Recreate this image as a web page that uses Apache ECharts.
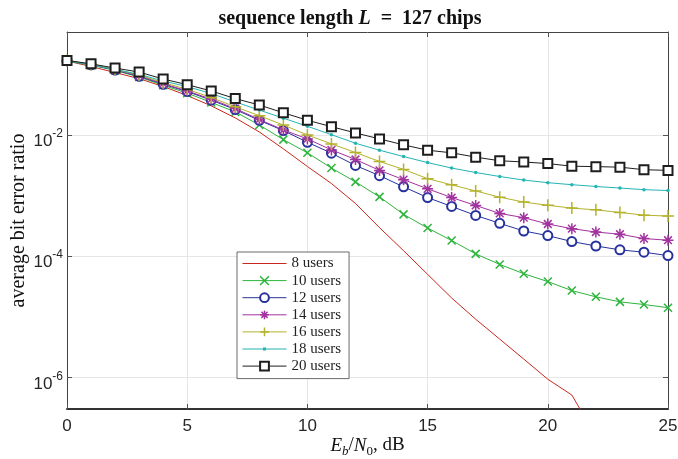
<!DOCTYPE html>
<html><head><meta charset="utf-8">
<script src="https://cdn.jsdelivr.net/npm/echarts@6/dist/echarts.min.js"></script>
<style>html,body{margin:0;padding:0;background:#fff}#c{width:678px;height:459px}</style>
</head><body><div id="c"></div>
<script>
// ---- data ----
const snr = [0,1,2,3,4,5,6,7,8,9,10,11,12,13,14,15,16,17,18,19,20,21,22,23,24,25];
const users8  = [0.166,0.135,0.107,0.085,0.063,0.0447,0.0302,0.0191,0.0112,0.00589,0.00302,0.00158,0.00074,0.000295,0.000123,5.0e-5,2.04e-5,9.1e-6,4.27e-6,2.0e-6,9.3e-7,5.1e-7,1.07e-7];
const users10 = [0.165,0.142,0.116,0.0904,0.066,0.0489,0.0344,0.024,0.0146,0.00838,0.00507,0.00284,0.00168,0.00095,0.000489,0.000291,0.000181,0.000109,7.3e-5,5.13e-5,3.8e-5,2.7e-5,2.13e-5,1.76e-5,1.59e-5,1.41e-5];
const users12 = [0.168,0.144,0.118,0.0927,0.0686,0.052,0.0375,0.0263,0.0174,0.0118,0.00758,0.0050,0.00314,0.00213,0.00139,0.000927,0.00066,0.00047,0.000348,0.00026,0.000218,0.000174,0.000147,0.000127,0.000116,0.000102];
const users14 = [0.168,0.1445,0.119,0.095,0.0703,0.0533,0.0389,0.0272,0.018,0.0121,0.0086,0.00567,0.00394,0.0026,0.00183,0.00129,0.000927,0.000686,0.000507,0.000431,0.000339,0.000284,0.00025,0.00023,0.000195,0.000183];
const users16 = [0.17,0.146,0.121,0.0975,0.073,0.0567,0.0414,0.0291,0.0208,0.0146,0.0100,0.00712,0.00513,0.00365,0.0027,0.0019,0.0015,0.00119,0.00094,0.00078,0.00069,0.00062,0.00058,0.000526,0.000475,0.000458];
const users18 = [0.168,0.144,0.121,0.1,0.0778,0.0628,0.0482,0.0351,0.0257,0.0189,0.0139,0.0101,0.0073,0.0056,0.0044,0.0035,0.00284,0.0024,0.00206,0.0018,0.00163,0.00151,0.00141,0.00133,0.00125,0.00121];
const users20 = [0.17,0.149,0.127,0.109,0.0838,0.0676,0.0532,0.0398,0.0312,0.0232,0.0175,0.0137,0.0108,0.0086,0.00686,0.0056,0.00507,0.0043,0.00375,0.00358,0.00337,0.00305,0.0030,0.00294,0.00267,0.0026];
const seriesNames = ['8 users','10 users','12 users','14 users','16 users','18 users','20 users'];
const xTicks = [0,5,10,15,20,25];
const yTicks = [1e-6,1e-4,1e-2];

// ---- styles ----
const xPath = 'path://M0,0L10,10M10,0L0,10';
const starPath = 'path://M5,0L5,10M0,5L10,5M1.5,1.5L8.5,8.5M8.5,1.5L1.5,8.5';
const plusPath = 'path://M5,0L5,10M0,5L10,5';
const styles = [
  {color:'#c8281e', symbol:'none', size:0, bw:0},
  {color:'#2db43c', symbol:xPath, size:8, bw:1.5},
  {color:'#26329c', symbol:'emptyCircle', size:9, bw:1.5},
  {color:'#a2329f', symbol:starPath, size:11, bw:1.5},
  {color:'#b4b22a', symbol:plusPath, size:12, bw:1.5},
  {color:'#25b4b4', symbol:'circle', size:3.5, bw:0},
  {color:'#1e1e1e', symbol:'emptyRect', size:9, bw:1.5}
];
const allValues = [users8,users10,users12,users14,users16,users18,users20];

const series = allValues.map((vals,k)=>({
  name: seriesNames[k],
  type:'line',
  data: vals.map((v,i)=>[snr[i], v]),
  symbol: styles[k].symbol,
  symbolSize: styles[k].size,
  showSymbol: styles[k].symbol !== 'none',
  showAllSymbol: true,
  lineStyle:{width:1, color:styles[k].color},
  itemStyle:{color:styles[k].color, borderColor:styles[k].color, borderWidth:styles[k].bw},
  emphasis:{disabled:true},
  animation:false,
  clip:true,
  z: 2 + k
}));

// legend entries: plain line for '8 users', line with small dot for '18 users'
const legendData = seriesNames.map((n,k)=>{
  if (k === 0) return {name:n, icon:'path://M0,0H44V1H0Z', itemStyle:{borderWidth:0}};
  if (k === 5) return {name:n, icon:'path://M0,1H44V2H0Z M20.5,0H23.5V3H20.5Z', itemStyle:{borderWidth:0}};
  return {name:n};
});

const serif = 'Liberation Serif';
const sans = 'Liberation Sans';
const tickColor = '#262626';

const chart = echarts.init(document.getElementById('c'), null, {renderer:'canvas'});
chart.setOption({
  backgroundColor:'#fff',
  animation:false,
  title:{
    text:'{n|sequence length }{i|L}{n|  =  127 chips}',
    left: 345, top: 4, textAlign:'center',
    textStyle:{ rich:{
      n:{fontFamily:serif, fontWeight:'bold', fontSize:20, color:'#111'},
      i:{fontFamily:serif, fontWeight:'bold', fontStyle:'italic', fontSize:20, color:'#111'}
    }}
  },
  grid:{left:67, right:10, top:32, bottom:50, containLabel:false, outerBoundsMode:'none'},
  legend:{
    orient:'vertical', left:237, top:252,
    itemWidth:44, itemHeight:11, itemGap:2.1,
    padding:[4,8,5,5], borderColor:'#444', borderWidth:0.8, backgroundColor:'#fff',
    lineStyle:{width:1},
    itemStyle:{borderWidth:1.5},
    textStyle:{fontFamily:serif, fontSize:15, color:'#222'},
    data: legendData
  },
  xAxis:[{
    type:'value', min:0, max:25, interval:5, position:'bottom',
    axisLine:{show:true, onZero:false, lineStyle:{color:'#333', width:2}},
    axisTick:{show:true, inside:true, length:5, lineStyle:{color:'#555', width:1}},
    axisLabel:{fontFamily:sans, fontSize:17, color:tickColor, margin:9,
      customValues: xTicks},
    splitLine:{show:true, lineStyle:{color:'#e6e6e6', width:1}},
    name:'{i|E}{sb|b}{n|/}{i|N}{s0|0}{n|, dB}',
    nameLocation:'middle', nameGap:27, nameMoveOverlap:false,
    nameTextStyle:{ rich:{
      i:{fontFamily:serif, fontStyle:'italic', fontSize:19, color:'#111', lineHeight:22, verticalAlign:'top'},
      n:{fontFamily:serif, fontSize:19, color:'#111', lineHeight:22, verticalAlign:'top'},
      sb:{fontFamily:serif, fontStyle:'italic', fontSize:13, color:'#111', lineHeight:12, verticalAlign:'bottom'},
      s0:{fontFamily:serif, fontSize:13, color:'#111', lineHeight:12, verticalAlign:'bottom'}
    }}
  },{
    type:'value', min:0, max:25, interval:5, position:'top',
    axisLine:{show:true, onZero:false, lineStyle:{color:'#444', width:1}},
    axisTick:{show:true, inside:true, length:5, lineStyle:{color:'#555', width:1}},
    axisLabel:{show:false},
    splitLine:{show:false}
  }],
  yAxis:[{
    type:'log', logBase:10, min:3e-7, max:0.5, position:'left',
    axisLine:{show:true, onZero:false, lineStyle:{color:'#444', width:1}},
    axisTick:{show:true, inside:true, length:5, lineStyle:{color:'#555', width:1}, customValues: yTicks},
    minorTick:{show:false},
    axisLabel:{margin:4, customValues: yTicks, padding:[8,0,0,0],
      formatter:function(v){
        const e = Math.round(Math.log10(v));
        return '{b|10}{s|' + e + '}';
      },
      rich:{
        b:{fontFamily:sans, fontSize:17, color:tickColor, lineHeight:22, verticalAlign:'bottom'},
        s:{fontFamily:sans, fontSize:12, color:tickColor, lineHeight:14, verticalAlign:'top'}
      }
    },
    splitLine:{show:true, lineStyle:{color:'#e6e6e6', width:1}},
    name:'average bit error ratio', nameLocation:'middle', nameGap:38, nameMoveOverlap:false,
    nameTextStyle:{fontFamily:serif, fontSize:20, color:'#111'}
  },{
    type:'log', logBase:10, min:3e-7, max:0.5, position:'right',
    axisLine:{show:true, onZero:false, lineStyle:{color:'#444', width:1}},
    axisTick:{show:true, inside:true, length:5, lineStyle:{color:'#555', width:1}, customValues: yTicks},
    axisLabel:{show:false},
    splitLine:{show:false}
  }],
  series: series
});
</script></body></html>
